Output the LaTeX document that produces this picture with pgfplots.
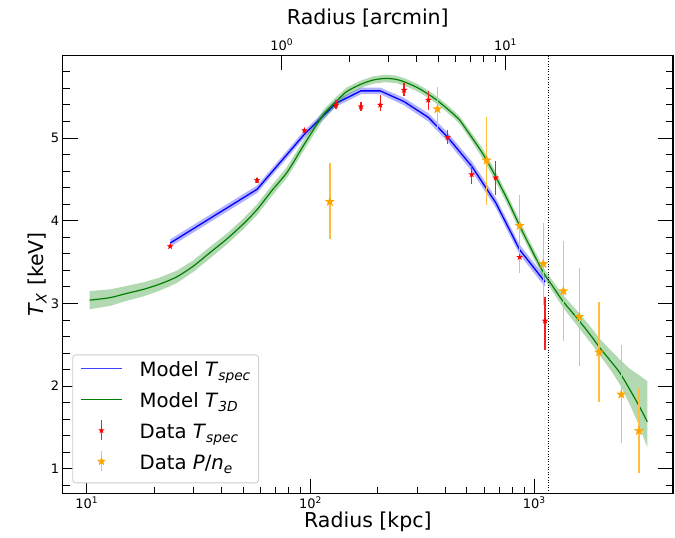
\documentclass[border=0pt]{standalone}
\usepackage{fontspec}
\setmainfont{DejaVu Sans}
\usepackage{pgfplots}
\pgfplotsset{compat=1.18}
\usetikzlibrary{plotmarks}
\newcommand\tfont{\fontsize{13}{15}\selectfont}
\newcommand\lfont{\fontsize{20.5}{24}\selectfont}
\newcommand\legfont{\fontsize{19.7}{23}\selectfont}
\definecolor{mplorange}{HTML}{FFA500}
\definecolor{mplgreen}{HTML}{008000}
\definecolor{redbar}{HTML}{F42020}
\definecolor{orangebar}{HTML}{FFBE40}
\pgfdeclareplotmark{fstar}{%
  \pgfpathmoveto{\pgfpointpolar{90}{\pgfplotmarksize}}%
  \pgfpathlineto{\pgfpointpolar{126}{0.4\pgfplotmarksize}}%
  \pgfpathlineto{\pgfpointpolar{162}{\pgfplotmarksize}}%
  \pgfpathlineto{\pgfpointpolar{198}{0.4\pgfplotmarksize}}%
  \pgfpathlineto{\pgfpointpolar{234}{\pgfplotmarksize}}%
  \pgfpathlineto{\pgfpointpolar{270}{0.4\pgfplotmarksize}}%
  \pgfpathlineto{\pgfpointpolar{306}{\pgfplotmarksize}}%
  \pgfpathlineto{\pgfpointpolar{342}{0.4\pgfplotmarksize}}%
  \pgfpathlineto{\pgfpointpolar{18}{\pgfplotmarksize}}%
  \pgfpathlineto{\pgfpointpolar{54}{0.4\pgfplotmarksize}}%
  \pgfpathclose
  \pgfusepathqfillstroke}
\begin{document}
\begin{tikzpicture}
\begin{axis}[
  at={(0pt,0pt)}, anchor=south west, scale only axis,
  width=610.3pt, height=438.4pt, xmode=log, ymin=0.7, ymax=6.0,
  tick align=inside, major tick length=15pt, minor tick length=7pt,
  every tick/.style={black, line width=0.9pt},
  axis line style={line width=1.1pt},
  tick label style={font=\tfont},
  label style={font=\lfont},
  xmin=7.81, xmax=4168,
  xtick={10,100,1000},
  xticklabels={10\textsuperscript{1},10\textsuperscript{2},10\textsuperscript{3}},
  ytick={1,2,3,4,5}, yticklabels={1,2,3,4,5},
  minor ytick={0.8,1.2,1.4,1.6,1.8,2.2,2.4,2.6,2.8,3.2,3.4,3.6,3.8,4.2,4.4,4.6,4.8,5.2,5.4,5.6,5.8},
  xtick pos=left, ytick pos=both, yticklabel pos=left,
  xticklabel style={anchor=base, yshift=-14.6pt, inner sep=0pt},
  yticklabel style={anchor=east, xshift=-3.4pt, inner sep=0pt},
  xlabel={Radius [kpc]},
  xlabel style={at={(axis description cs:0.5,0)}, anchor=base, yshift=-34.3pt},
  ylabel={\textit{T}\textsubscript{\textit{X}} [keV]},
  ylabel style={at={(axis description cs:0,0.5)}, anchor=base, yshift=19.4pt},
  unbounded coords=jump,
  legend cell align=left,
  legend style={at={(0,0)}, anchor=south west, xshift=9.6pt, yshift=10.4pt,
    draw=black!20, line width=0.8pt, rounded corners=3pt, fill=white,
    font=\legfont, inner xsep=7.7pt, inner ysep=2pt, row sep=0pt,
    nodes={inner xsep=0pt, inner ysep=5pt, text height=15pt, text depth=6pt},
    /tikz/every odd column/.append style={column sep=17pt}},
]
% blue band
\addplot[draw=none, fill=blue, fill opacity=0.3, forget plot] coordinates {
 (23.6,3.775) (57.7,4.425) (93.5,5.085) (130,5.462) (168,5.61) (205,5.61) (262,5.485) (336,5.30) (410,5.065) (525,4.72) (672,4.28) (860,3.71) (1117,3.32)
 (1117,3.20) (860,3.59) (672,4.16) (525,4.60) (410,4.955) (336,5.20) (262,5.395) (205,5.53) (168,5.53) (130,5.378) (93.5,4.995) (57.7,4.335) (23.6,3.685)
} -- cycle;
% blue line
\addplot[blue, line width=1.3pt, legend image code/.code={\draw[blue!75!white, line width=1.5pt] (0pt,4pt) -- (40.7pt,4pt);}] coordinates {
 (23.6,3.73) (57.7,4.38) (93.5,5.04) (130,5.42) (168,5.57) (205,5.57) (262,5.44) (336,5.25) (410,5.01) (525,4.66) (672,4.22) (860,3.65) (1117,3.26)
};
\addlegendentry{Model \textit{T}\textsubscript{\textit{spec}}}
% green band
\addplot[draw=none, fill=mplgreen, fill opacity=0.3, forget plot] coordinates {
 (10.3,3.15) (12.7,3.17) (15,3.21) (17.9,3.255) (21,3.31) (25.2,3.395) (29.9,3.52) (35,3.67) (42.3,3.845) (50,4.025) (57.5,4.195) (67,4.425) (78.3,4.645) (89.8,4.905) (96.1,5.035) (114,5.34) (130,5.495) (145,5.61) (168,5.695) (190,5.745) (215,5.765) (240,5.755) (262,5.725) (300,5.655) (336,5.575) (370,5.495) (410,5.395) (443,5.315) (466,5.255) (525,5.06) (592,4.86) (667,4.61) (760,4.31) (860,4.00) (960,3.74) (1100,3.43) (1200,3.285) (1349,3.095) (1545,2.92) (1780,2.72) (1968,2.57) (2200,2.43) (2414,2.32) (2671,2.21) (2955,2.13) (3200,2.06)
 (3200,1.26) (2955,1.51) (2671,1.78) (2414,2.02) (2200,2.19) (1968,2.37) (1780,2.53) (1545,2.74) (1349,2.945) (1200,3.155) (1100,3.31) (960,3.62) (860,3.88) (760,4.19) (667,4.49) (592,4.74) (525,4.96) (466,5.165) (443,5.225) (410,5.305) (370,5.405) (336,5.485) (300,5.565) (262,5.635) (240,5.665) (215,5.675) (190,5.655) (168,5.605) (145,5.51) (130,5.385) (114,5.22) (96.1,4.905) (89.8,4.775) (78.3,4.515) (67,4.295) (57.5,4.065) (50,3.895) (42.3,3.715) (35,3.53) (29.9,3.38) (25.2,3.245) (21,3.15) (17.9,3.085) (15,3.03) (12.7,2.97) (10.3,2.93)
} -- cycle;
% green line
\addplot[mplgreen, line width=1.2pt, smooth, legend image code/.code={\draw[mplgreen, line width=1.5pt] (0pt,4pt) -- (40.7pt,4pt);}] coordinates {
 (10.3,3.04) (12.7,3.07) (15,3.12) (17.9,3.17) (21,3.23) (25.2,3.32) (29.9,3.45) (35,3.60) (42.3,3.78) (50,3.96) (57.5,4.13) (67,4.36) (78.3,4.58) (89.8,4.84) (96.1,4.97) (114,5.28) (130,5.44) (145,5.56) (168,5.65) (190,5.70) (215,5.72) (240,5.71) (262,5.68) (300,5.61) (336,5.53) (370,5.45) (410,5.35) (443,5.27) (466,5.21) (525,5.01) (592,4.80) (667,4.55) (760,4.25) (860,3.94) (960,3.68) (1100,3.37) (1200,3.22) (1349,3.02) (1545,2.83) (1780,2.62) (1968,2.46) (2200,2.30) (2414,2.16) (2671,1.96) (2955,1.75) (3200,1.57)
};
\addlegendentry{Model \textit{T}\textsubscript{\textit{3D}}}
% dotted reference line
\addplot[black, line width=0.9pt, dash pattern=on 1pt off 1.6pt, forget plot] coordinates {(1159,0.7) (1159,6.0)};
% red error bars
\addplot[redbar, line width=1.5pt, forget plot] coordinates {
 (23.6,3.67) (23.6,3.71) (23.6,nan)
 (57.7,4.46) (57.7,4.52) (57.7,nan)
 (94,5.06) (94,5.12) (94,nan)
 (130,5.35) (130,5.46) (130,nan)
 (168,5.33) (168,5.44) (168,nan)
 (205,5.33) (205,5.52) (205,nan)
 (262,5.51) (262,5.66) (262,nan)
 (336,5.34) (336,5.57) (336,nan)
 (410,4.93) (410,5.10) (410,nan)
 (525,4.44) (525,4.68) (525,nan)
 (672,4.31) (672,4.72) (672,nan)
 (860,3.37) (860,3.71) (860,nan)
 (1117,2.44) (1117,3.08)
};
% orange error bars
\addplot[orangebar, line width=1.5pt, forget plot] coordinates {
 (122,3.78) (122,4.70) (122,nan)
 (369,5.09) (369,5.62) (369,nan)
 (612,4.19) (612,5.25) (612,nan)
 (860,3.37) (860,4.31) (860,nan)
 (1097,2.98) (1097,3.97) (1097,nan)
 (1349,2.55) (1349,3.75) (1349,nan)
 (1589,2.24) (1589,3.43) (1589,nan)
 (1950,1.81) (1950,3.02) (1950,nan)
 (2448,1.31) (2448,2.50) (2448,nan)
 (2937,0.95) (2937,1.98)
};
% red data
\addplot[only marks, red, mark=fstar, mark size=2.9pt, mark options={fill=red, draw=red, line width=0.3pt},
  legend image code/.code={
    \draw[redbar, line width=1.5pt] (20.3pt,-6pt) -- (20.3pt,14pt);
    \draw[red, fill=red, line width=0.3pt] plot[mark=fstar, mark size=2.8pt] coordinates {(20.3pt,4pt)};}]
  coordinates {
 (23.6,3.69) (57.7,4.49) (94,5.09) (130,5.40) (168,5.38) (205,5.40) (262,5.58) (336,5.46) (410,5.01) (525,4.56) (672,4.52) (860,3.56) (1117,2.79)
};
\addlegendentry{Data \textit{T}\textsubscript{\textit{spec}}}
% orange data
\addplot[only marks, mplorange, mark=fstar, mark size=4.7pt, mark options={fill=mplorange, draw=mplorange, line width=0.3pt},
  legend image code/.code={
    \draw[orangebar, line width=1.5pt] (20.3pt,-6pt) -- (20.3pt,14pt);
    \draw[mplorange, fill=mplorange, line width=0.3pt] plot[mark=fstar, mark size=4.2pt] coordinates {(20.3pt,4pt)};}]
  coordinates {
 (122,4.23) (369,5.35) (612,4.73) (860,3.94) (1097,3.48) (1349,3.15) (1589,2.84) (1950,2.41) (2448,1.90) (2937,1.46)
};
\addlegendentry{Data \textit{P}/\textit{n}\textsubscript{\textit{e}}}
\end{axis}
\begin{axis}[
  at={(0pt,0pt)}, anchor=south west, scale only axis,
  width=610.3pt, height=438.4pt, xmode=log, ymin=0.7, ymax=6.0,
  tick align=inside, major tick length=15pt, minor tick length=7pt,
  every tick/.style={black, line width=0.9pt},
  axis line style={line width=1.1pt},
  tick label style={font=\tfont},
  label style={font=\lfont},
  xmin=0.1051, xmax=56.04,
  xtick={1,10}, xticklabels={10\textsuperscript{0},10\textsuperscript{1}},
  xtick pos=right, xticklabel pos=right, ytick=\empty,
  xticklabel style={anchor=base, yshift=5pt, inner sep=0pt},
  xlabel={Radius [arcmin]},
  xlabel style={at={(axis description cs:0.5,1)}, anchor=base, yshift=30.3pt},
]
\end{axis}
\pgfresetboundingbox
\path[use as bounding box] (-62.7pt,-44.3pt) rectangle (612.3pt,493.7pt);
\end{tikzpicture}
\end{document}
